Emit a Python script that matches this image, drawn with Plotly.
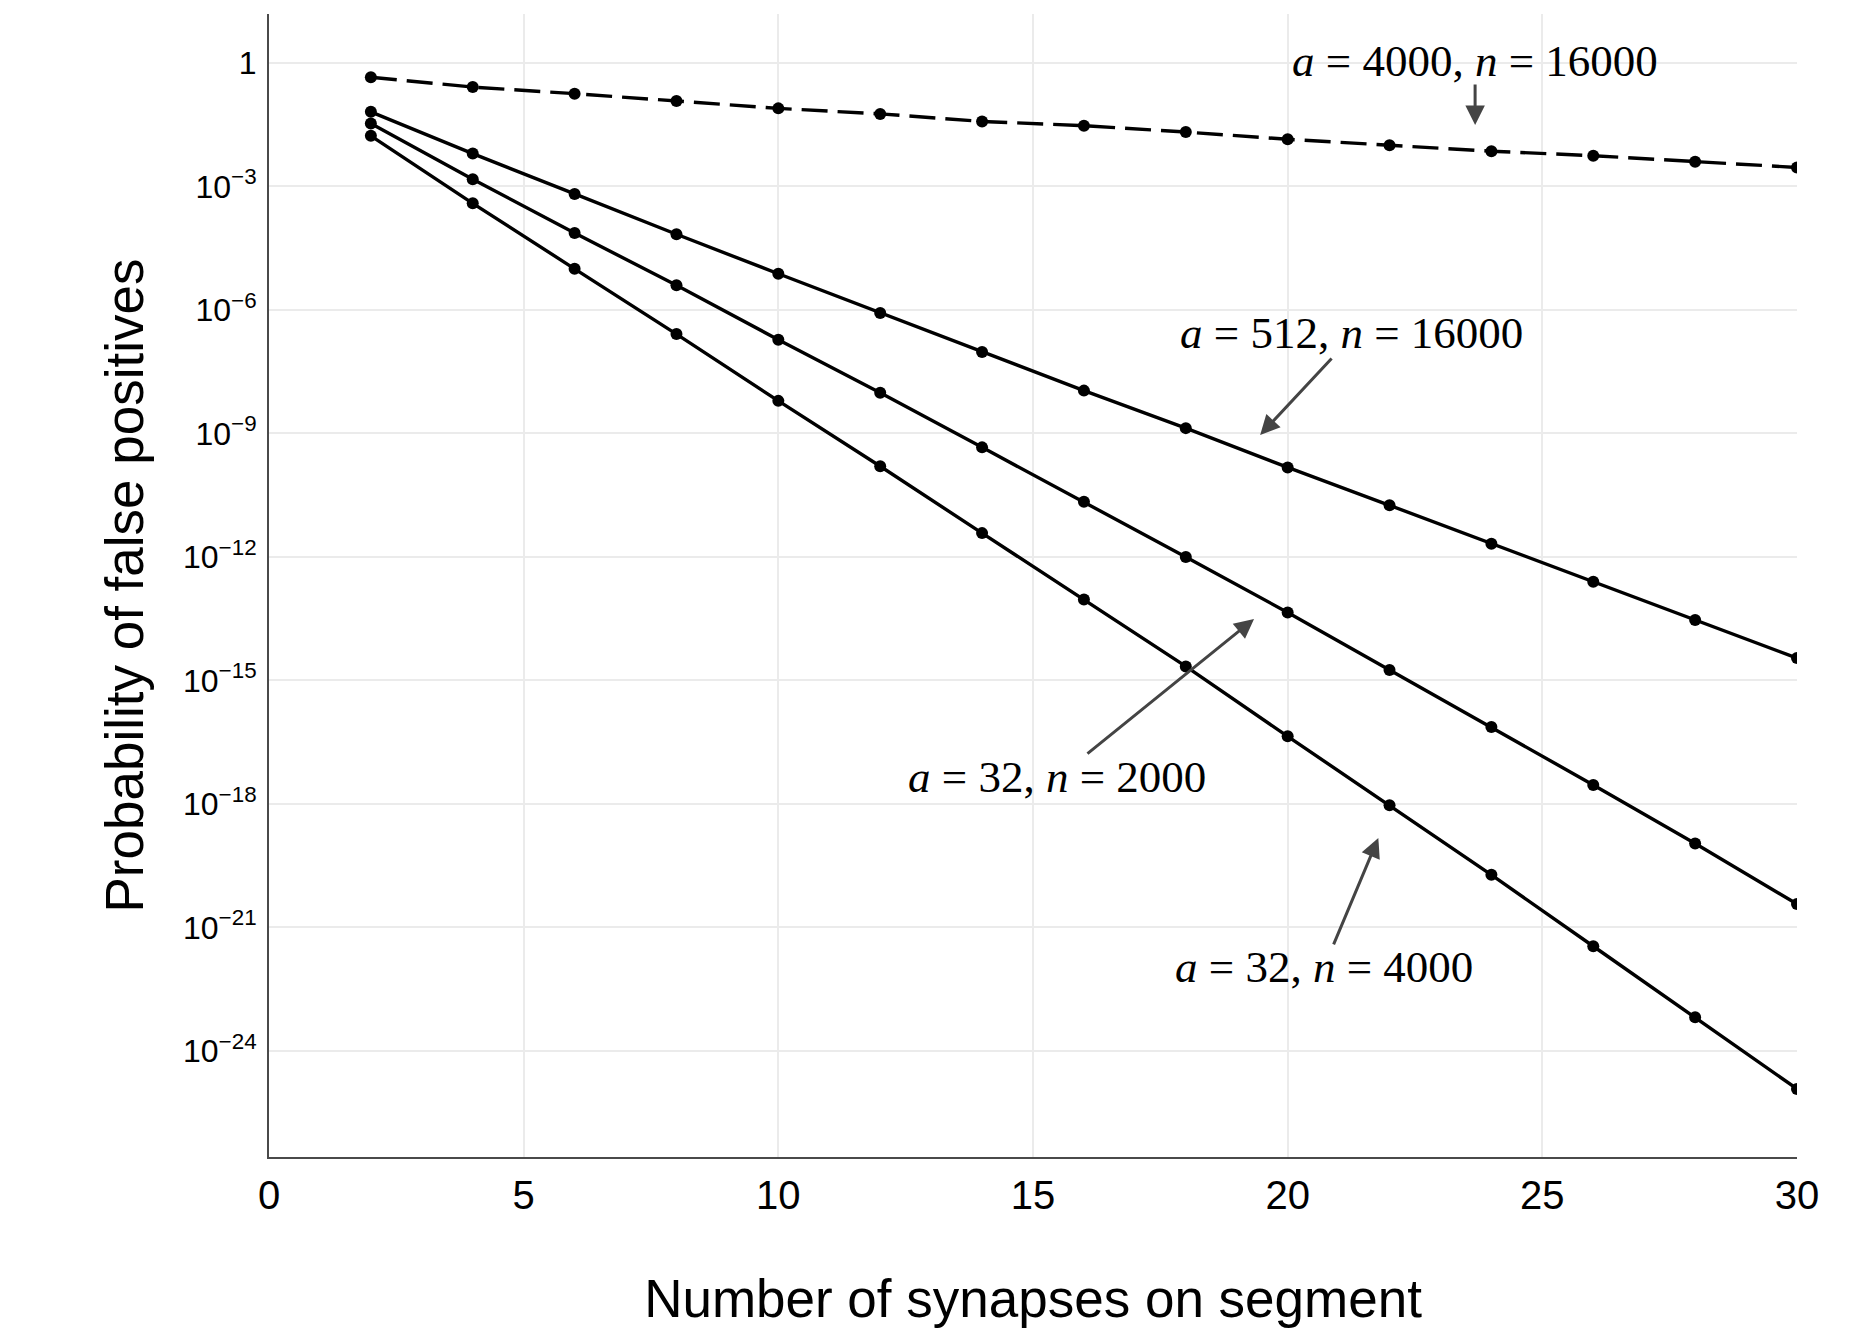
import plotly.graph_objects as go

# ---------------- data ----------------
synapses = [2, 4, 6, 8, 10, 12, 14, 16, 18, 20, 22, 24, 26, 28, 30]

p_a4000_n16000 = [4.5e-1, 2.6e-1, 1.8e-1, 1.2e-1, 7.9e-2, 5.8e-2, 3.8e-2, 3.0e-2,
                  2.1e-2, 1.4e-2, 1.0e-2, 7.2e-3, 5.6e-3, 4.0e-3, 2.9e-3]
p_a512_n16000 = [6.5e-2, 6.3e-3, 6.6e-4, 6.9e-5, 7.6e-6, 8.5e-7, 9.5e-8, 1.1e-8,
                 1.35e-9, 1.5e-10, 1.8e-11, 2.1e-12, 2.5e-13, 2.95e-14, 3.5e-15]
p_a32_n2000 = [3.4e-2, 1.5e-3, 7.4e-5, 4.0e-6, 1.9e-7, 9.8e-9, 4.6e-10, 2.2e-11,
               1.0e-12, 4.5e-14, 1.8e-15, 7.4e-17, 2.9e-18, 1.1e-19, 3.7e-21]
p_a32_n4000 = [1.7e-2, 3.9e-4, 1.0e-5, 2.6e-7, 6.2e-9, 1.6e-10, 3.8e-12, 9.3e-14,
               2.2e-15, 4.4e-17, 9.3e-19, 1.9e-20, 3.5e-22, 6.6e-24, 1.2e-25]

x_ticks = [0, 5, 10, 15, 20, 25, 30]
y_tick_exponents = [0, -3, -6, -9, -12, -15, -18, -21, -24]

labels = ["<i>a</i> = 4000, <i>n</i> = 16000",
          "<i>a</i> = 512, <i>n</i> = 16000",
          "<i>a</i> = 32, <i>n</i> = 2000",
          "<i>a</i> = 32, <i>n</i> = 4000"]

# ---------------- figure ----------------
fig = go.Figure()

line_w = 3.4
mk = dict(size=12, color="black")

fig.add_trace(go.Scatter(x=synapses, y=p_a4000_n16000, mode="lines+markers",
                         line=dict(color="black", width=line_w, dash="26px,10px"),
                         marker=mk, showlegend=False))
for ys in (p_a512_n16000, p_a32_n2000, p_a32_n4000):
    fig.add_trace(go.Scatter(x=synapses, y=ys, mode="lines+markers",
                             line=dict(color="black", width=line_w),
                             marker=mk, showlegend=False))

tickvals = [10.0 ** e for e in y_tick_exponents]
ticktext = ["1" if e == 0 else "10<sup>\u2212%d</sup>" % (-e) for e in y_tick_exponents]

grid = "#ebebeb"
axcol = "#4a4a4a"

fig.update_layout(
    width=1868, height=1340,
    margin=dict(l=269, r=71, t=14, b=183),
    paper_bgcolor="white", plot_bgcolor="white",
    font=dict(family="Liberation Sans, Arial, sans-serif", color="black"),
    xaxis=dict(range=[0, 30], tickvals=x_ticks, showgrid=True, gridcolor=grid,
               gridwidth=1.5, zeroline=False, showline=True, linecolor=axcol,
               linewidth=2, ticks="", tickfont=dict(size=40),
               ticklabelstandoff=2,
               title=dict(text="Number of synapses on segment",
                          font=dict(size=53), standoff=64)),
    yaxis=dict(type="log", range=[-26.575, 1.19], tickvals=tickvals,
               ticktext=ticktext, showgrid=True, gridcolor=grid, gridwidth=1.5,
               zeroline=False, showline=True, linecolor=axcol, linewidth=2,
               ticks="", tickfont=dict(size=32), ticklabelstandoff=4,
               title=dict(text="Probability of false positives",
                          font=dict(size=53), standoff=22)),
)

# annotations: text labels
ann_font = dict(family="Liberation Serif, DejaVu Serif, serif", size=45, color="black")
text_pos = [(23.68, 0.048), (21.26, -6.558), (15.47, -17.343), (20.71, -21.958)]
for lab, (tx, ty) in zip(labels, text_pos):
    fig.add_annotation(x=tx, y=ty, xref="x", yref="y", text=lab, showarrow=False,
                       xanchor="center", yanchor="middle", font=ann_font)

# annotations: arrows (tip, tail) in data units (y in log10)
arrows = [((23.68, -1.506), (23.68, -0.486)),
          ((19.46, -9.036), (20.89, -7.141)),
          ((19.34, -13.505), (16.04, -16.808)),
          ((21.78, -18.825), (20.89, -21.448))]
for (hx, hy), (tx, ty) in arrows:
    fig.add_annotation(x=hx, y=hy, xref="x", yref="y", ax=tx, ay=ty,
                       axref="x", ayref="y", text="", showarrow=True,
                       arrowhead=2, arrowsize=1.3, arrowwidth=3,
                       arrowcolor="#444444")

fig.write_html("out.html", config={"displayModeBar": False},
               post_script="document.body.style.margin='0';")
